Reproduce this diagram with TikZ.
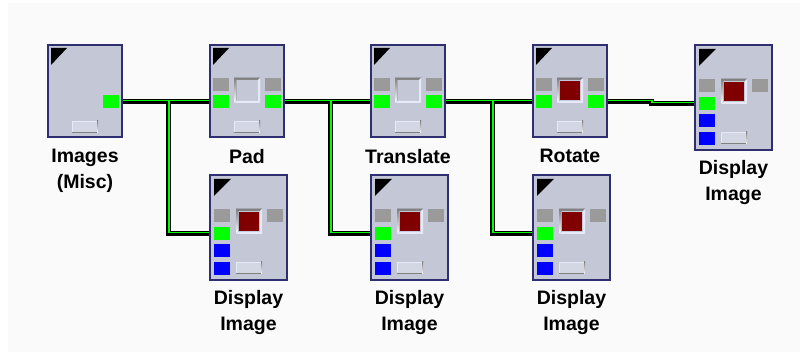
\documentclass[tikz,border=0pt]{standalone}
\usepackage{fontspec}
\setmainfont{Liberation Sans}
\usetikzlibrary{positioning,backgrounds}
\definecolor{bg}{HTML}{FAFAFA}
\definecolor{body}{HTML}{C4C7D5}
\definecolor{frame}{HTML}{2E2E70}
\definecolor{hilite}{HTML}{E6E9F8}
\definecolor{shade}{HTML}{6C7282}
\definecolor{portgray}{HTML}{9A9A9A}
\definecolor{portgreen}{HTML}{00FF00}
\definecolor{portblue}{HTML}{0000FF}
\definecolor{portred}{HTML}{800000}
\definecolor{btn}{HTML}{D3D6E3}

\begin{document}
\begin{tikzpicture}[
            x = 0.5pt, y = -0.5pt,
            module/.style = {
                rectangle,
                draw = frame,
                line width = 0.9pt,
                fill = body,
                anchor = north west,
                inner sep = 0pt,
                outer sep = 0pt,
                minimum width = 37pt,
                minimum height = 46pt},
            viewer/.style = {
                module,
                minimum width = 38.5pt,
                minimum height = 52.5pt},
            port/.style = {
                rectangle,
                anchor = north west,
                inner sep = 0pt,
                outer sep = 0pt,
                minimum width = 8pt,
                minimum height = 6.5pt},
            label/.style = {
                font = \bfseries\fontsize{9.75}{12.75}\selectfont,
                align = center,
                inner sep = 0pt},
            wire/.style = {
                draw = black,
                line width = 2.5pt,
                postaction = {draw = portgreen, line width = 0.75pt,
                    transform canvas = {xshift = 0.5pt, yshift = 0.5pt}}},
            pics/knob/.style = {code = {
                \fill [btn] (0,0) rectangle (26,12);
                \fill [hilite] (0,0) rectangle (26,1);
                \fill [hilite] (0,0) rectangle (1,12);
                \fill [shade] (0,11) rectangle (26,12);
                \fill [shade] (25,0) rectangle (26,12);}},
            pics/well/.style = {code = {
                \fill [shade] (0,0) -- (26,0) -- (24,2) -- (2,2) -- (2,23) -- (0,25) -- cycle;
                \fill [hilite] (26,0) -- (26,25) -- (0,25) -- (2,23) -- (24,23) -- (24,2) -- cycle;
                \fill [#1] (3,3) rectangle (23,22);}},
            pics/source/.style = {code = {
                \node [module] (-box) at (0,0) {};
                \fill (3,3) -- (19,3) -- (3,20) -- cycle;
                \node [port, fill = portgreen] (-out) at (55,50) {};
                \pic at (24,76) {knob};}},
            pics/filter/.style = {code = {
                \node [module] (-box) at (0,0) {};
                \fill (3,3) -- (19,3) -- (3,20) -- cycle;
                \node [port, fill = portgray] at (3,33) {};
                \node [port, fill = portgray] at (55,33) {};
                \node [port, fill = portgreen] (-in) at (3,50) {};
                \node [port, fill = portgreen] (-out) at (55,50) {};
                \pic at (24,33) {well = #1};
                \pic at (24,76) {knob};}},
            pics/display/.style = {code = {
                \node [viewer] (-box) at (0,0) {};
                \fill (4,4) -- (21,4) -- (4,21) -- cycle;
                \node [port, fill = portgray] at (4,34) {};
                \node [port, fill = portgray] at (57,34) {};
                \node [port, fill = portgreen] (-in) at (4,52) {};
                \node [port, fill = portblue] at (4,69) {};
                \node [port, fill = portblue] at (4,87) {};
                \pic at (26,34) {well = portred};
                \pic at (26,87) {knob};}}]
        \useasboundingbox (0,0) rectangle (800,352);

        % Place modules
        \pic (img) at (48,45) {source};
        \pic (pad) at (210,45) {filter = body};
        \pic (tr) at (371,45) {filter = body};
        \pic (rot) at (533,45) {filter = portred};
        \pic (dsp) at (695,45) {display};
        \pic (dsp1) at (210,175) {display};
        \pic (dsp2) at (371,175) {display};
        \pic (dsp3) at (533,175) {display};

        % Place labels
        \node [label, below = 6pt of img-box] (img-lbl) {Images\\(Misc)};
        \node [label, below = 6pt of pad-box] (pad-lbl) {Pad};
        \node [label, below = 6pt of tr-box] (tr-lbl) {Translate};
        \node [label, below = 6pt of rot-box] (rot-lbl) {Rotate};
        \node [label, below = 5pt of dsp-box] (dsp-lbl) {Display\\Image};
        \node [label, below = 5pt of dsp1-box] (dsp1-lbl) {Display\\Image};
        \node [label, below = 5pt of dsp2-box] (dsp2-lbl) {Display\\Image};
        \node [label, below = 5pt of dsp3-box] (dsp3-lbl) {Display\\Image};

        % Draw wires
        \begin{scope}[on background layer]
            \fill [bg] (8,3) rectangle (800,352);
            \coordinate (j1) at (168,0);
            \coordinate (j2) at (330,0);
            \coordinate (j3) at (492,0);
            \coordinate (j4) at (651,0);
            \path [wire] (img-out.east) -- (pad-in.west);
            \path [wire] (j1 |- img-out.east) |- (dsp1-in.west);
            \path [wire] (pad-out.east) -- (tr-in.west);
            \path [wire] (j2 |- pad-out.east) |- (dsp2-in.west);
            \path [wire] (tr-out.east) -- (rot-in.west);
            \path [wire] (j3 |- tr-out.east) |- (dsp3-in.west);
            \path [wire] (rot-out.east) -| (j4 |- dsp-in.west) -- (dsp-in.west);
        \end{scope}
    \end{tikzpicture}
\end{document}
